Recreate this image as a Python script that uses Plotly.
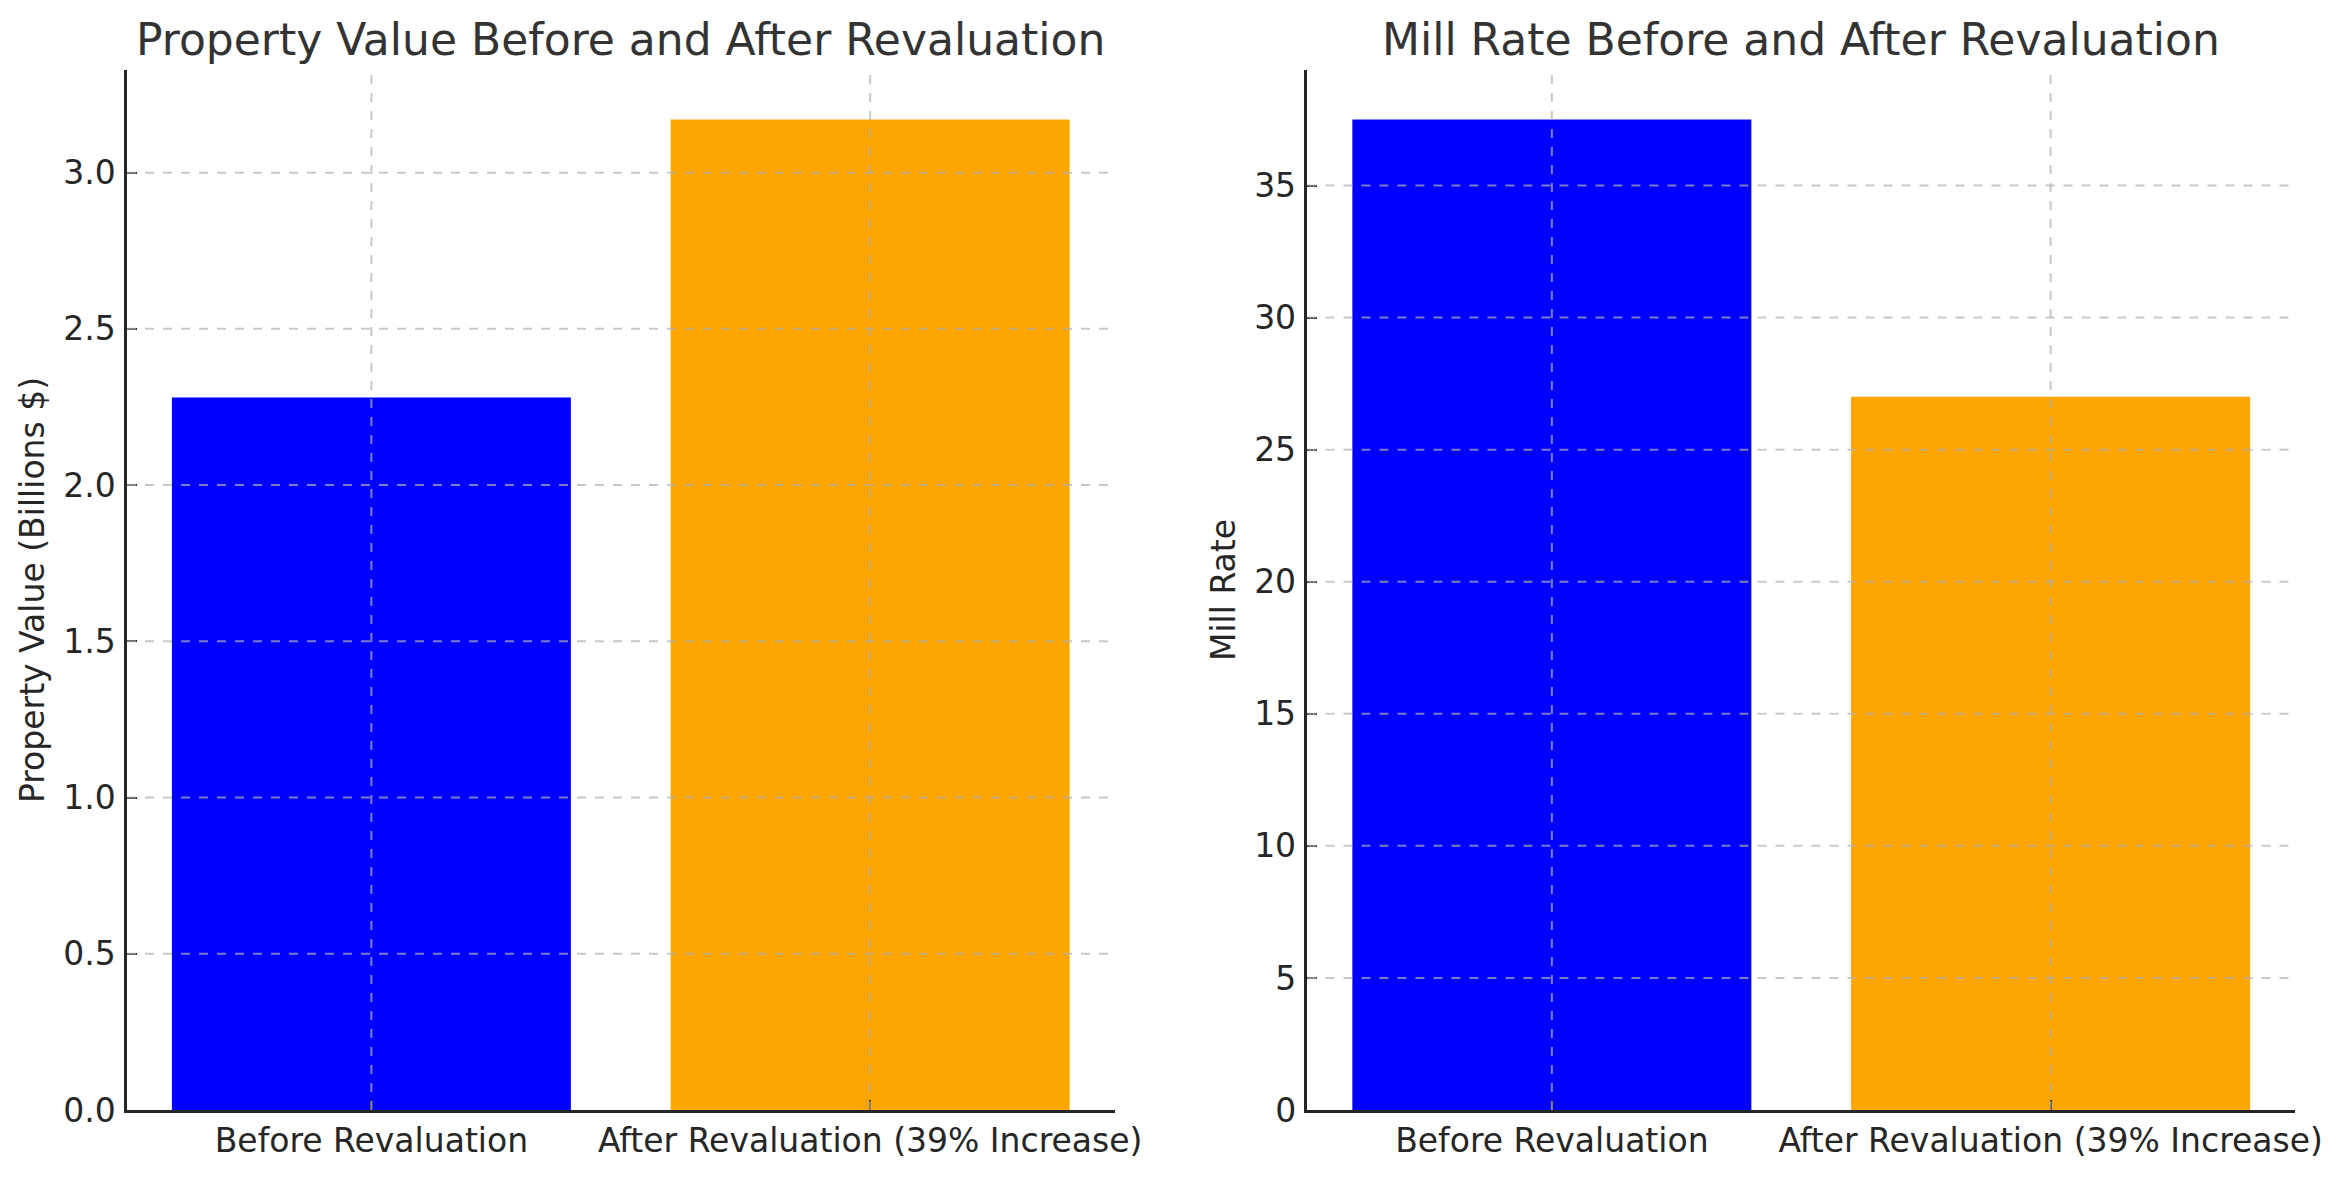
import plotly.graph_objects as go
from plotly.subplots import make_subplots

categories = ["Before Revaluation", "After Revaluation (39% Increase)"]
property_values = [2.28, 3.17]          # billions $
mill_rates = [37.5, 27.0]
bar_colors = ["#0000ff", "#ffa500"]

titles = ["Property Value Before and After Revaluation", "Mill Rate Before and After Revaluation"]
y_titles = ["Property Value (Billions $)", "Mill Rate"]
left_ticks = [0.0, 0.5, 1.0, 1.5, 2.0, 2.5, 3.0]
right_ticks = [0, 5, 10, 15, 20, 25, 30, 35]

# page body has an 8px default margin, so the figure is slightly smaller
W, H = 2328, 1164
FONT = "DejaVu Sans"
TEXT = "#262626"
GRID = "rgba(176,176,176,0.7)"

fig = make_subplots(rows=1, cols=2, horizontal_spacing=0.089)

fig.add_trace(go.Bar(x=categories, y=property_values, marker=dict(color=bar_colors, line_width=0),
                     width=0.8, showlegend=False), row=1, col=1)
fig.add_trace(go.Bar(x=categories, y=mill_rates, marker=dict(color=bar_colors, line_width=0),
                     width=0.8, showlegend=False), row=1, col=2)

ranges = [[0, max(property_values) * 1.05], [0, max(mill_rates) * 1.05]]
tick_sets = [left_ticks, right_ticks]
formats = [".1f", "d"]

for i in range(2):
    c = i + 1
    fig.update_xaxes(row=1, col=c, type="category", range=[-0.49, 1.49],
                     showline=True, linecolor=TEXT, linewidth=2.5, mirror=False,
                     ticks="inside", ticklen=10, tickwidth=2, tickcolor=TEXT,
                     showgrid=False, zeroline=False,
                     tickfont=dict(family=FONT, size=33, color=TEXT),
                     ticklabelstandoff=0)
    fig.update_yaxes(row=1, col=c, range=ranges[i], tickvals=tick_sets[i], tickformat=formats[i],
                     showline=True, linecolor=TEXT, linewidth=2.5, mirror=False,
                     ticks="inside", ticklen=10, tickwidth=2, tickcolor=TEXT,
                     showgrid=False, zeroline=False,
                     tickfont=dict(family=FONT, size=33, color=TEXT),
                     ticklabelstandoff=2,
                     title=dict(text=y_titles[i], font=dict(family=FONT, size=33, color=TEXT), standoff=9))
    xref = "x" if c == 1 else "x2"
    yref = "y" if c == 1 else "y2"
    # horizontal grid lines drawn above bars
    for t in tick_sets[i]:
        if t == 0:
            continue
        fig.add_shape(type="line", xref=xref + " domain", yref=yref, x0=0, x1=1, y0=t, y1=t,
                      line=dict(color=GRID, width=2, dash="dash"), layer="above")
    # vertical grid lines at category centres
    for cat in categories:
        fig.add_shape(type="line", xref=xref, yref=yref + " domain", x0=cat, x1=cat, y0=0, y1=1,
                      line=dict(color=GRID, width=2, dash="dash"), layer="above")
    fig.add_annotation(text=titles[i], xref=xref + " domain", yref="paper", x=0.5, y=1,
                       xanchor="center", yanchor="bottom", yshift=3, showarrow=False,
                       font=dict(family=FONT, size=44, color="#333333"))

fig.update_layout(width=W, height=H, margin=dict(l=119, r=41, t=62, b=49),
                  paper_bgcolor="white", plot_bgcolor="white", bargap=0.2,
                  font=dict(family=FONT, color=TEXT))

fig.write_html("out.html")
